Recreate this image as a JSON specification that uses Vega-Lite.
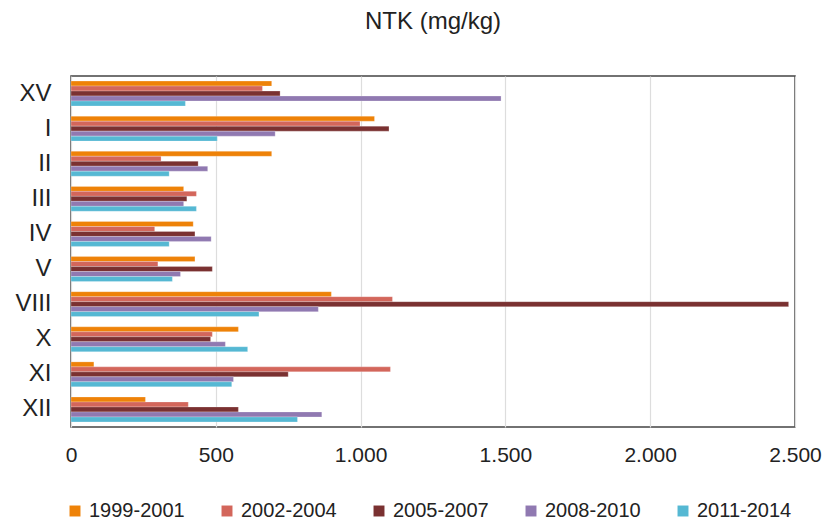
{
  "$schema": "https://vega.github.io/schema/vega-lite/v6.json",
  "width": 724,
  "height": 351,
  "autosize": "none",
  "padding": {"left": 71, "top": 76, "right": 30, "bottom": 98},
  "background": "white",
  "title": {"text": "NTK (mg/kg)", "fontSize": 24, "font": "Liberation Sans", "fontWeight": "normal", "color": "#222222", "offset": 42, "anchor": "middle"},
  "config": {
    "view": {"stroke": "#444444", "strokeWidth": 1.5},
    "font": "Liberation Sans"
  },
  "data": {
    "values": [
      {"region": "XV", "period": "1999-2001", "value": 693},
      {"region": "XV", "period": "2002-2004", "value": 661},
      {"region": "XV", "period": "2005-2007", "value": 722},
      {"region": "XV", "period": "2008-2010", "value": 1485},
      {"region": "XV", "period": "2011-2014", "value": 395},
      {"region": "I", "period": "1999-2001", "value": 1048},
      {"region": "I", "period": "2002-2004", "value": 998},
      {"region": "I", "period": "2005-2007", "value": 1098},
      {"region": "I", "period": "2008-2010", "value": 705},
      {"region": "I", "period": "2011-2014", "value": 505},
      {"region": "II", "period": "1999-2001", "value": 693},
      {"region": "II", "period": "2002-2004", "value": 311},
      {"region": "II", "period": "2005-2007", "value": 439},
      {"region": "II", "period": "2008-2010", "value": 472},
      {"region": "II", "period": "2011-2014", "value": 339},
      {"region": "III", "period": "1999-2001", "value": 389},
      {"region": "III", "period": "2002-2004", "value": 433},
      {"region": "III", "period": "2005-2007", "value": 400},
      {"region": "III", "period": "2008-2010", "value": 389},
      {"region": "III", "period": "2011-2014", "value": 433},
      {"region": "IV", "period": "1999-2001", "value": 422},
      {"region": "IV", "period": "2002-2004", "value": 289},
      {"region": "IV", "period": "2005-2007", "value": 428},
      {"region": "IV", "period": "2008-2010", "value": 484},
      {"region": "IV", "period": "2011-2014", "value": 339},
      {"region": "V", "period": "1999-2001", "value": 428},
      {"region": "V", "period": "2002-2004", "value": 300},
      {"region": "V", "period": "2005-2007", "value": 488},
      {"region": "V", "period": "2008-2010", "value": 378},
      {"region": "V", "period": "2011-2014", "value": 350},
      {"region": "VIII", "period": "1999-2001", "value": 899},
      {"region": "VIII", "period": "2002-2004", "value": 1110},
      {"region": "VIII", "period": "2005-2007", "value": 2478},
      {"region": "VIII", "period": "2008-2010", "value": 854},
      {"region": "VIII", "period": "2011-2014", "value": 649},
      {"region": "X", "period": "1999-2001", "value": 578},
      {"region": "X", "period": "2002-2004", "value": 488},
      {"region": "X", "period": "2005-2007", "value": 482},
      {"region": "X", "period": "2008-2010", "value": 533},
      {"region": "X", "period": "2011-2014", "value": 610},
      {"region": "XI", "period": "1999-2001", "value": 79},
      {"region": "XI", "period": "2002-2004", "value": 1103},
      {"region": "XI", "period": "2005-2007", "value": 750},
      {"region": "XI", "period": "2008-2010", "value": 561},
      {"region": "XI", "period": "2011-2014", "value": 555},
      {"region": "XII", "period": "1999-2001", "value": 257},
      {"region": "XII", "period": "2002-2004", "value": 405},
      {"region": "XII", "period": "2005-2007", "value": 578},
      {"region": "XII", "period": "2008-2010", "value": 866},
      {"region": "XII", "period": "2011-2014", "value": 782}
    ]
  },
  "mark": {"type": "bar", "stroke": "white", "strokeWidth": 0.4, "strokeOpacity": 0.6},
  "encoding": {
    "y": {
      "field": "region",
      "type": "nominal",
      "sort": ["XV", "I", "II", "III", "IV", "V", "VIII", "X", "XI", "XII"],
      "scale": {"paddingInner": 0.29, "paddingOuter": 0.145},
      "axis": {"title": null, "ticks": false, "domain": false, "labelFontSize": 24, "labelColor": "#222222", "labelPadding": 20}
    },
    "yOffset": {
      "field": "period",
      "type": "nominal",
      "sort": ["1999-2001", "2002-2004", "2005-2007", "2008-2010", "2011-2014"]
    },
    "x": {
      "field": "value",
      "type": "quantitative",
      "scale": {"domain": [0, 2500], "nice": false},
      "axis": {
        "title": null,
        "values": [0, 500, 1000, 1500, 2000, 2500],
        "labelExpr": "replace(format(datum.value, ','), ',', '.')",
        "labelFontSize": 21,
        "labelColor": "#222222",
        "labelPadding": 17,
        "ticks": false,
        "domain": false,
        "grid": true,
        "gridColor": "#dddddd",
        "gridWidth": 1.2,
        "labelFlush": false
      }
    },
    "color": {
      "field": "period",
      "type": "nominal",
      "sort": ["1999-2001", "2002-2004", "2005-2007", "2008-2010", "2011-2014"],
      "scale": {
        "domain": ["1999-2001", "2002-2004", "2005-2007", "2008-2010", "2011-2014"],
        "range": ["#EE8208", "#D3665B", "#7A3131", "#9079B1", "#55B8D3"]
      },
      "legend": {
        "title": null,
        "orient": "none",
        "legendX": -6,
        "legendY": 425,
        "padding": 0,
        "direction": "horizontal",
        "symbolType": "square",
        "symbolSize": 120,
        "symbolStrokeWidth": 0,
        "labelFontSize": 20,
        "labelColor": "#222222",
        "labelOffset": 4,
        "columnPadding": 32
      }
    }
  }
}
